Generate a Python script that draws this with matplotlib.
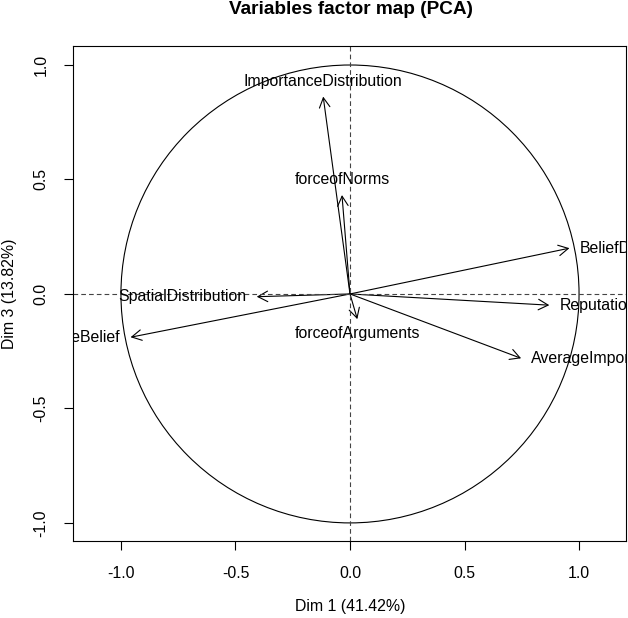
import matplotlib
matplotlib.use("Agg")
import matplotlib.pyplot as plt
from matplotlib.patches import Circle, FancyArrowPatch

# ---- data ----
variables = ["ImportanceDistribution", "forceofNorms", "SpatialDistribution",
             "AverageBelief", "forceofArguments", "BeliefDistribution",
             "Reputation", "AverageImportance"]
dim1 = [-0.117, -0.035, -0.407, -0.958, 0.032, 0.958, 0.870, 0.747]
dim3 = [0.862, 0.432, -0.012, -0.189, -0.110, 0.200, -0.049, -0.281]
xticks = [-1.0, -0.5, 0.0, 0.5, 1.0]
yticks = [-1.0, -0.5, 0.0, 0.5, 1.0]
title = "Variables factor map (PCA)"
xlabel = "Dim 1 (41.42%)"
ylabel = "Dim 3 (13.82%)"

plt.rcParams['font.family'] = ['Liberation Sans', 'DejaVu Sans']
FS = 11.4
W, H = 628, 618
fig = plt.figure(figsize=(W / 100, H / 100), dpi=100)
L, R, T, B = 73.3, 626, 46, 541
ax = fig.add_axes([L / W, 1 - B / H, (R - L) / W, (B - T) / H])
ax.set_xlim(-1.208, 1.205)
ax.set_ylim(-1.079, 1.083)

for s in ax.spines.values():
    s.set_linewidth(0.8)
    s.set_color('black')

ax.set_xticks(xticks)
ax.set_yticks(yticks)
ax.set_xticklabels([f"{v:.1f}" for v in xticks], fontsize=FS)
ax.set_yticklabels([f"{v:.1f}" for v in yticks], fontsize=FS, rotation=90, va='center')
ax.tick_params(direction='out', length=6.8, width=0.8, pad=11)

# circle and reference lines
ax.add_patch(Circle((0, 0), 1, fill=False, lw=0.8, color='black'))
ax.axhline(0, color='#444444', lw=0.8, ls=(0, (4.2, 2.8)))
ax.axvline(0, color='#444444', lw=0.8, ls=(0, (4.2, 2.8)))

px = 0.72  # points per pixel
for name, x, y in zip(variables, dim1, dim3):
    arr = FancyArrowPatch((0, 0), (x, y), arrowstyle='->,head_length=0.7,head_width=0.38',
                          mutation_scale=10, lw=0.8, color='black',
                          shrinkA=0, shrinkB=0)
    ax.add_patch(arr)
    if abs(x) > abs(y):
        if x > 0:
            off, ha, va = (10 * px, 0), 'left', 'center'
        else:
            off, ha, va = (-10 * px, 0), 'right', 'center'
    else:
        if y > 0:
            off, ha, va = (0, 15.5 * px), 'center', 'center'
        else:
            off, ha, va = (0, -14 * px), 'center', 'center'
    t = ax.annotate(name, (x, y), xytext=off, textcoords='offset points',
                    ha=ha, va=va, fontsize=FS, annotation_clip=False)
    t.set_clip_on(True)
    t.set_clip_box(ax.bbox)

fig.text(351 / W, 1 - 9 / H, title, ha='center', va='center',
         fontsize=FS * 1.2, fontweight='bold')
fig.text(350 / W, 1 - 607 / H, xlabel, ha='center', va='center', fontsize=FS)
fig.text(10 / W, 1 - 294 / H, ylabel, ha='center', va='center', fontsize=FS, rotation=90)

fig.savefig("out.png", dpi=100)
